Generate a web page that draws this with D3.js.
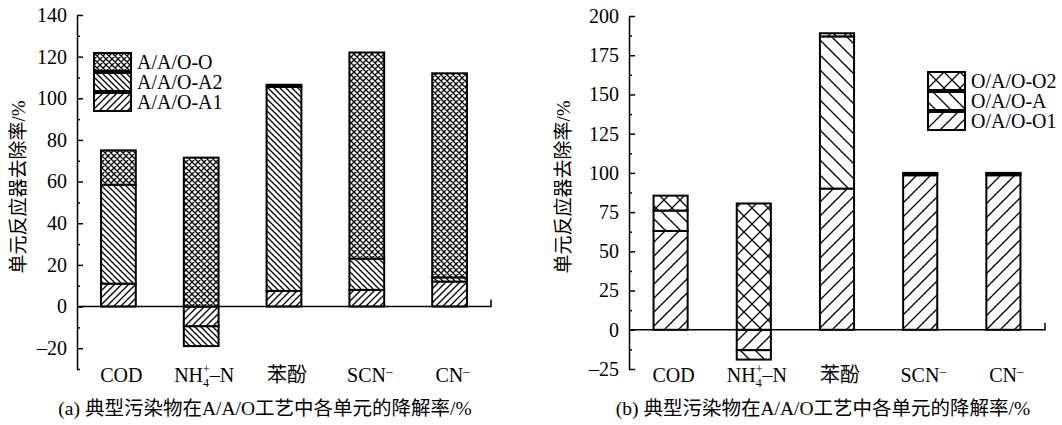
<!DOCTYPE html>
<html>
<head>
<meta charset="utf-8">
<script src="https://cdn.jsdelivr.net/npm/d3@7"></script>
<style>
    body { margin: 0; background: #fff; }
    svg { display: block; }
    text { font-family: "Liberation Serif", "Noto Sans CJK SC", serif; fill: #000; }
    .cjk { font-family: "Liberation Serif", "Noto Sans CJK SC", serif; }
</style>
</head>
<body>
<svg id="chart" width="1062" height="425"></svg>
<script>
// categories (shared by both panels)
const categories = ["COD", "NH4", "苯酚", "SCN", "CN"];

// panel (a): A/A/O process
const aSeries = ["A/A/O-A1", "A/A/O-A2", "A/A/O-O"];
const aA1 = [11, -9.5, 7.5, 8, 12];
const aA2 = [47.5, -9.5, 98, 15, 2];
const aO = [16.5, 71.5, 1, 99, 98];
const aMajorTicks = [-20, 0, 20, 40, 60, 80, 100, 120, 140];
const aMinorTicks = [-30, -10, 10, 30, 50, 70, 90, 110, 130];

// panel (b): O/A/O process
const bSeries = ["O/A/O-O1", "O/A/O-A", "O/A/O-O2"];
const bO1 = [63, -13, 90, 98.5, 98.5];
const bA = [13, -6, 97, 1, 1];
const bO2 = [9.5, 80.5, 2, 0.5, 0.5];
const bMajorTicks = [-25, 0, 25, 50, 75, 100, 125, 150, 175, 200];
const bMinorTicks = [-12.5, 12.5, 37.5, 62.5, 87.5, 112.5, 137.5, 162.5, 187.5];

const svg = d3.select("#chart");
const defs = svg.append("defs");

// hatch patterns: kind = "slash" | "back" | "cross"
function hatch(id, kind, s, sw) {
    const p = defs.append("pattern")
        .attr("id", id)
        .attr("patternUnits", "userSpaceOnUse")
        .attr("width", s)
        .attr("height", s);
    p.append("rect").attr("width", s).attr("height", s).attr("fill", "#fff");
    const slash = `M0,${s} L${s},0 M-1,1 L1,-1 M${s - 1},${s + 1} L${s + 1},${s - 1}`;
    const back = `M0,0 L${s},${s} M-1,${s - 1} L1,${s + 1} M${s - 1},-1 L${s + 1},1`;
    let d = kind === "slash" ? slash : kind === "back" ? back : slash + " " + back;
    p.append("path").attr("d", d).attr("stroke", "#000").attr("stroke-width", sw).attr("fill", "none");
}
hatch("a-a1", "slash", 7, 1.3);
hatch("a-a2", "back", 6, 1.3);
hatch("a-o", "cross", 6, 1.3);
hatch("b-o1", "slash", 14, 1.3);
hatch("b-a", "back", 15, 1.3);
hatch("b-o2", "cross", 16, 1.3);

function panel(cfg) {
    const g = svg.append("g");
    const x = d3.scaleBand()
        .domain(categories)
        .range([cfg.x0, cfg.x1])
        .paddingInner(cfg.pad)
        .paddingOuter(cfg.pad / 2);
    const y = d3.scaleLinear().domain(cfg.yDomain).range([cfg.yBottom, cfg.yTop]);

    const table = categories.map((c, i) => {
        const row = { cat: c };
        cfg.series.forEach((s, k) => { row[s] = cfg.values[k][i]; });
        return row;
    });
    const stack = d3.stack().keys(cfg.series).offset(d3.stackOffsetDiverging);
    const layers = stack(table);

    g.selectAll("g.layer")
        .data(layers)
        .enter().append("g")
        .attr("class", "layer")
        .attr("fill", (d, k) => `url(#${cfg.patterns[k]})`)
        .selectAll("rect")
        .data(d => d)
        .enter().append("rect")
        .attr("x", d => x(d.data.cat))
        .attr("width", x.bandwidth())
        .attr("y", d => y(Math.max(d[0], d[1])))
        .attr("height", d => Math.abs(y(d[0]) - y(d[1])))
        .attr("stroke", "#000")
        .attr("stroke-width", 2);

    // y axis, ticks pointing inward
    g.append("g")
        .attr("transform", `translate(${cfg.x0},0)`)
        .call(d3.axisLeft(y).tickValues(cfg.minor).tickSize(-3).tickSizeOuter(0).tickFormat(""))
        .call(a => a.select(".domain").remove());
    const ay = g.append("g")
        .attr("transform", `translate(${cfg.x0},0)`)
        .call(d3.axisLeft(y).tickValues(cfg.major).tickSize(-6).tickSizeOuter(0).tickPadding(10)
            .tickFormat(d => d < 0 ? "–" + (-d) : d));
    ay.selectAll("path, line").attr("stroke", "#000").attr("stroke-width", 1.5);
    ay.selectAll("text").attr("font-size", 20).attr("font-family", "Liberation Serif");
    g.selectAll(".tick line").attr("stroke", "#000").attr("stroke-width", 1.5);

    // zero line with end tick
    g.append("path")
        .attr("d", `M${cfg.x0},${y(0)} H${cfg.x1} V${y(0) - 7}`)
        .attr("fill", "none")
        .attr("stroke", "#000")
        .attr("stroke-width", 1.5);

    // category labels
    const lab = g.selectAll("text.cat")
        .data(categories)
        .enter().append("text")
        .attr("class", "cat")
        .attr("x", d => x(d) + x.bandwidth() / 2 + 3)
        .attr("y", 382)
        .attr("text-anchor", "middle")
        .attr("font-size", 20);
    lab.each(function (d) {
        const t = d3.select(this);
        if (d === "NH4") {
            t.append("tspan").text("NH");
            t.append("tspan").text("4").attr("font-size", 12).attr("dy", 5);
            t.append("tspan").text("+").attr("font-size", 12).attr("dx", -6).attr("dy", -14);
            t.append("tspan").text("–N").attr("dy", 9);
        } else if (d === "SCN" || d === "CN") {
            t.append("tspan").text(d);
            t.append("tspan").text("–").attr("font-size", 13).attr("dy", -7);
        } else {
            t.text(d);
        }
    });

    // y title
    g.append("text")
        .attr("class", "cjk")
        .attr("transform", `translate(${cfg.labelX},187) rotate(-90)`)
        .attr("text-anchor", "middle")
        .attr("dominant-baseline", "central")
        .attr("font-size", 19)
        .text("单元反应器去除率/%");

    // caption
    g.append("text")
        .attr("class", "cjk")
        .attr("x", cfg.capX)
        .attr("y", 415)
        .attr("text-anchor", "middle")
        .attr("font-size", 19.5)
        .text(cfg.caption);

    // legend (top entry first)
    const lg = g.append("g").attr("transform", `translate(${cfg.legX},${cfg.legY})`);
    const order = [2, 1, 0];
    order.forEach((k, j) => {
        lg.append("rect")
            .attr("x", 0).attr("y", j * 20)
            .attr("width", 37).attr("height", 18)
            .attr("fill", `url(#${cfg.patterns[k]})`)
            .attr("stroke", "#000").attr("stroke-width", 2);
        lg.append("text")
            .attr("x", 43).attr("y", j * 20 + 16)
            .attr("font-size", 20)
            .text(cfg.series[k]);
    });
}

panel({
    x0: 77, x1: 491, pad: 0.58,
    yDomain: [-30, 140], yBottom: 369, yTop: 15,
    series: aSeries, values: [aA1, aA2, aO],
    patterns: ["a-a1", "a-a2", "a-o"],
    major: aMajorTicks, minor: aMinorTicks,
    labelX: 18, capX: 265,
    caption: "(a) 典型污染物在A/A/O工艺中各单元的降解率/%",
    legX: 94, legY: 53
});

panel({
    x0: 629, x1: 1045, pad: 0.59,
    yDomain: [-25, 200], yBottom: 369, yTop: 16,
    series: bSeries, values: [bO1, bA, bO2],
    patterns: ["b-o1", "b-a", "b-o2"],
    major: bMajorTicks, minor: bMinorTicks,
    labelX: 563, capX: 823,
    caption: "(b) 典型污染物在A/A/O工艺中各单元的降解率/%",
    legX: 928, legY: 72
});
</script>
</body>
</html>
